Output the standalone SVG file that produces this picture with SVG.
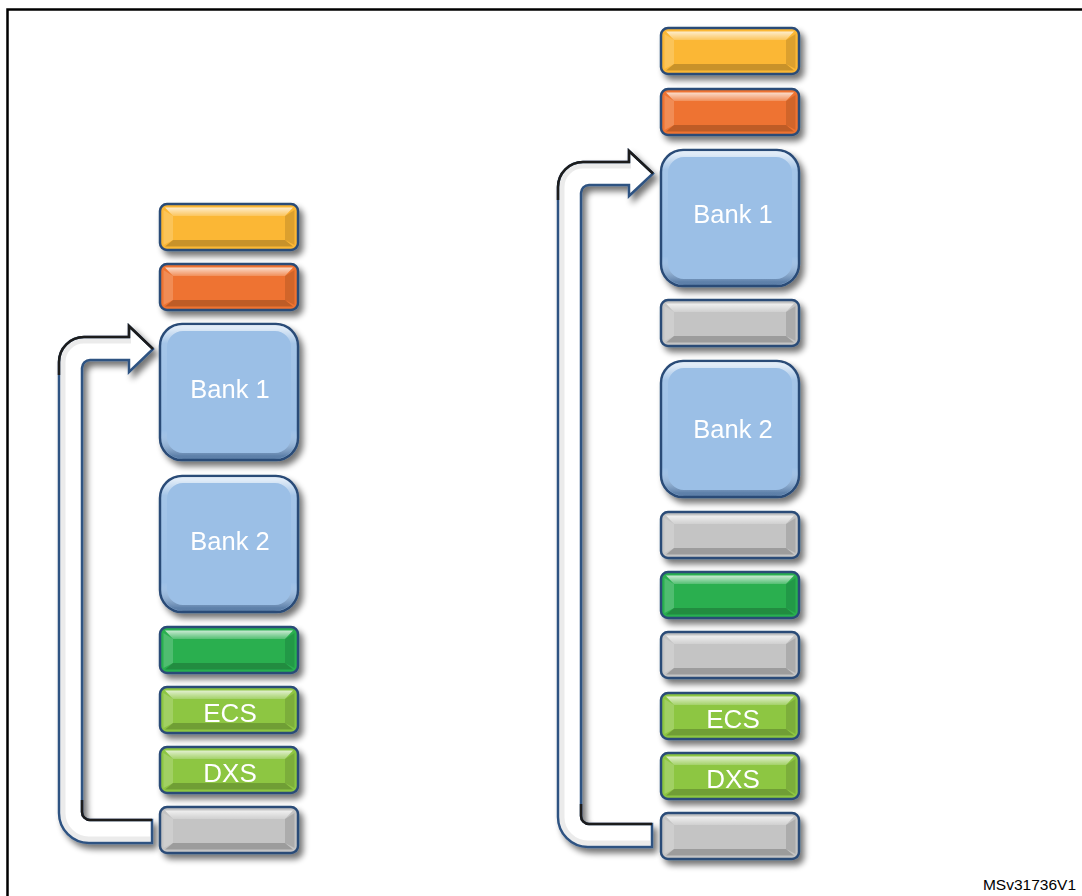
<svg xmlns="http://www.w3.org/2000/svg" xmlns:xlink="http://www.w3.org/1999/xlink" width="1082" height="896" viewBox="0 0 1082 896">
<style>
  .frame{fill:none;stroke:#000;stroke-width:2.5}
  .box{stroke:#2B4C77;stroke-width:2.5}
  .yellow{fill:#FBB735}
  .orange{fill:#EE7330}
  .dgreen{fill:#29AF50}
  .lgreen{fill:#8DC643}
  .gray{fill:#C4C4C4}
  .blue{fill:#9BBFE6}
  .lbl{font-family:"Liberation Sans",Arial,sans-serif;font-size:26px;fill:#fff;text-anchor:middle}
  .bank{font-size:25.5px}
  .arrow{fill:#fff;stroke:#2E5382;stroke-width:2.5;stroke-linejoin:miter}
  .tube{fill:none;stroke:#000;stroke-opacity:0.08;stroke-width:5}
  .dk{fill:none;stroke:#1a1a1a;stroke-width:2.5}
  .ref{font-family:"Liberation Sans",Arial,sans-serif;font-size:15.5px;fill:#000;text-anchor:end}
</style>
<defs>
  <filter id="sh" x="-20%" y="-20%" width="150%" height="150%">
    <feGaussianBlur in="SourceAlpha" stdDeviation="3"/>
    <feOffset dx="4" dy="5" result="b"/>
    <feComponentTransfer><feFuncA type="linear" slope="0.55"/></feComponentTransfer>
    <feMerge><feMergeNode/><feMergeNode in="SourceGraphic"/></feMerge>
  </filter>
  <linearGradient id="topg" x1="0" y1="0" x2="0" y2="1">
    <stop offset="0" stop-color="#fff" stop-opacity="0.75"/>
    <stop offset="1" stop-color="#fff" stop-opacity="0.2"/>
  </linearGradient>
  <linearGradient id="bankEdge" x1="0" y1="0" x2="0" y2="1">
    <stop offset="0" stop-color="#fff" stop-opacity="0.7"/>
    <stop offset="0.12" stop-color="#fff" stop-opacity="0.1"/>
    <stop offset="0.8" stop-color="#fff" stop-opacity="0"/>
    <stop offset="1" stop-color="#2B4C77" stop-opacity="0.55"/>
  </linearGradient>
  <g id="bev">
    <polygon points="5,3.5 133,3.5 125,12 13,12" fill="url(#topg)"/>
    <polygon points="3.5,6 13,12 13,36 3.5,41" fill="#fff" fill-opacity="0.18"/>
    <polygon points="134.5,6 125,12 125,36 134.5,41" fill="#000" fill-opacity="0.12"/>
    <polygon points="5,42.5 13,36 125,36 133,42.5" fill="#000" fill-opacity="0.2"/>
  </g>
  <g id="bankbev">
    <rect x="4" y="4" width="130" height="128" rx="19" fill="none" stroke="url(#bankEdge)" stroke-width="6"/>
  </g>
</defs>

<path class="frame" d="M1090,9.5 H7.5 V900"/>

<g id="connectors" filter="url(#sh)">
  <g id="arrow-left">
    <path class="arrow" d="M152,843 H89 A30,30 0 0 1 59,813 V362 A25,25 0 0 1 84,337 H129 V326 L153,349 L129,372 V360 H90 A8,8 0 0 0 82,368 V812 A8,8 0 0 0 90,820 H152 Z"/>
    <path class="tube" d="M150,839 H89 A26,26 0 0 1 63,813 V362 A21,21 0 0 1 84,341 H131"/>
    <path class="dk" d="M59,375 V362 A25,25 0 0 1 84,337 H129 V326 L153,349"/>
    <path class="dk" d="M82,800 V812 A8,8 0 0 0 90,820 H152"/>
  </g>
  <g id="arrow-right">
    <path class="arrow" d="M652,847 H588 A30,30 0 0 1 558,817 V187 A25,25 0 0 1 583,162 H629 V151 L653,173.5 L629,196 V185 H589 A8,8 0 0 0 581,193 V816 A8,8 0 0 0 589,824 H652 Z"/>
    <path class="tube" d="M650,843 H588 A26,26 0 0 1 562,817 V187 A21,21 0 0 1 583,166 H631"/>
    <path class="dk" d="M558,200 V187 A25,25 0 0 1 583,162 H629 V151 L653,173.5"/>
    <path class="dk" d="M581,804 V816 A8,8 0 0 0 589,824 H652"/>
  </g>
</g>

<!-- Left column -->
<g id="L-yellow" transform="translate(160,204)" filter="url(#sh)"><rect class="box yellow" width="138" height="46" rx="7"/><use href="#bev"/></g>
<g id="L-orange" transform="translate(160,264)" filter="url(#sh)"><rect class="box orange" width="138" height="46" rx="7"/><use href="#bev"/></g>
<g id="L-bank1" transform="translate(160,324)" filter="url(#sh)"><rect class="box blue" width="138" height="136" rx="22"/><use href="#bankbev"/><text class="lbl bank" x="70" y="74">Bank 1</text></g>
<g id="L-bank2" transform="translate(160,476)" filter="url(#sh)"><rect class="box blue" width="138" height="136" rx="22"/><use href="#bankbev"/><text class="lbl bank" x="70" y="74">Bank 2</text></g>
<g id="L-green" transform="translate(160,627)" filter="url(#sh)"><rect class="box dgreen" width="138" height="46" rx="7"/><use href="#bev"/></g>
<g id="L-ecs" transform="translate(160,687)" filter="url(#sh)"><rect class="box lgreen" width="138" height="46" rx="7"/><use href="#bev"/><text class="lbl" x="70" y="34.5">ECS</text></g>
<g id="L-dxs" transform="translate(160,747)" filter="url(#sh)"><rect class="box lgreen" width="138" height="46" rx="7"/><use href="#bev"/><text class="lbl" x="70" y="34.5">DXS</text></g>
<g id="L-gray" transform="translate(160,807)" filter="url(#sh)"><rect class="box gray" width="138" height="46" rx="7"/><use href="#bev"/></g>

<!-- Right column -->
<g id="R-yellow" transform="translate(661,28)" filter="url(#sh)"><rect class="box yellow" width="138" height="46" rx="7"/><use href="#bev"/></g>
<g id="R-orange" transform="translate(661,89)" filter="url(#sh)"><rect class="box orange" width="138" height="46" rx="7"/><use href="#bev"/></g>
<g id="R-bank1" transform="translate(661,150)" filter="url(#sh)"><rect class="box blue" width="138" height="136" rx="22"/><use href="#bankbev"/><text class="lbl bank" x="72" y="73">Bank 1</text></g>
<g id="R-gray1" transform="translate(661,300)" filter="url(#sh)"><rect class="box gray" width="138" height="46" rx="7"/><use href="#bev"/></g>
<g id="R-bank2" transform="translate(661,361)" filter="url(#sh)"><rect class="box blue" width="138" height="136" rx="22"/><use href="#bankbev"/><text class="lbl bank" x="72" y="77">Bank 2</text></g>
<g id="R-gray2" transform="translate(661,512)" filter="url(#sh)"><rect class="box gray" width="138" height="46" rx="7"/><use href="#bev"/></g>
<g id="R-green" transform="translate(661,572)" filter="url(#sh)"><rect class="box dgreen" width="138" height="46" rx="7"/><use href="#bev"/></g>
<g id="R-gray3" transform="translate(661,632)" filter="url(#sh)"><rect class="box gray" width="138" height="46" rx="7"/><use href="#bev"/></g>
<g id="R-ecs" transform="translate(661,693)" filter="url(#sh)"><rect class="box lgreen" width="138" height="46" rx="7"/><use href="#bev"/><text class="lbl" x="72" y="34.5">ECS</text></g>
<g id="R-dxs" transform="translate(661,753)" filter="url(#sh)"><rect class="box lgreen" width="138" height="46" rx="7"/><use href="#bev"/><text class="lbl" x="72" y="34.5">DXS</text></g>
<g id="R-gray4" transform="translate(661,813)" filter="url(#sh)"><rect class="box gray" width="138" height="46" rx="7"/><use href="#bev"/></g>

<text class="ref" x="1076" y="890">MSv31736V1</text>
</svg>
